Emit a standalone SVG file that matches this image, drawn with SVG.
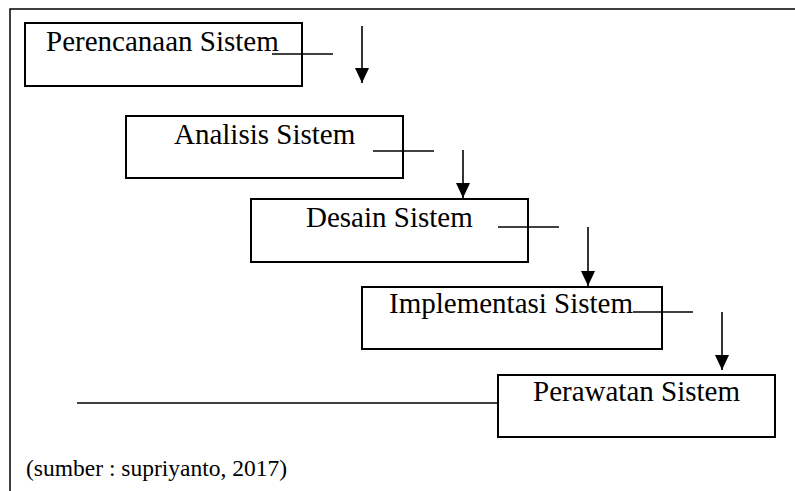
<svg xmlns="http://www.w3.org/2000/svg" width="795" height="491" viewBox="0 0 795 491">
  <style>
    .box { fill: #ffffff; stroke: #000000; stroke-width: 2; }
    .lbl { font-family: "Liberation Serif", "Times New Roman", serif; font-size: 29px; fill: #000000; }
    .src { font-family: "Liberation Serif", "Times New Roman", serif; font-size: 23.5px; fill: #000000; }
    .ln { fill: none; stroke: #000000; stroke-width: 1.6; }
    .frame { fill: none; stroke: #000000; stroke-width: 1.5; }
  </style>
  <defs>
    <marker id="arr" viewBox="0 0 15 14" refX="15" refY="7" markerWidth="15" markerHeight="14" markerUnits="userSpaceOnUse" orient="auto">
      <path d="M0,0 L15,7 L0,14 z" fill="#000000"/>
    </marker>
  </defs>
  <rect width="795" height="491" fill="#ffffff"/>
  <g id="frame">
    <path class="frame" d="M10,491 L10,9 L795,9"/>
  </g>
  <g id="node-perencanaan">
    <rect class="box" x="25" y="23" width="277" height="63"/>
    <text class="lbl" x="46" y="51">Perencanaan Sistem</text>
  </g>
  <g id="node-analisis">
    <rect class="box" x="126" y="116" width="277" height="62"/>
    <text class="lbl" x="174" y="144">Analisis Sistem</text>
  </g>
  <g id="node-desain">
    <rect class="box" x="251" y="199" width="277" height="63"/>
    <text class="lbl" x="306" y="227">Desain Sistem</text>
  </g>
  <g id="node-implementasi">
    <rect class="box" x="362" y="287" width="300" height="62"/>
    <text class="lbl" x="389" y="313">Implementasi Sistem</text>
  </g>
  <g id="node-perawatan">
    <rect class="box" x="498" y="375" width="277" height="62"/>
    <text class="lbl" x="533" y="401">Perawatan Sistem</text>
  </g>
  <g id="connectors">
    <line class="ln" x1="272" y1="54" x2="333" y2="54"/>
    <line class="ln" x1="362" y1="26" x2="362" y2="83" marker-end="url(#arr)"/>
    <line class="ln" x1="373" y1="151" x2="434" y2="151"/>
    <line class="ln" x1="463" y1="150" x2="463" y2="198" marker-end="url(#arr)"/>
    <line class="ln" x1="498" y1="227" x2="559" y2="227"/>
    <line class="ln" x1="588" y1="227" x2="588" y2="286" marker-end="url(#arr)"/>
    <line class="ln" x1="633" y1="312" x2="693" y2="312"/>
    <line class="ln" x1="722" y1="312" x2="722" y2="370" marker-end="url(#arr)"/>
    <line class="ln" x1="77" y1="403" x2="498" y2="403"/>
  </g>
  <text class="src" x="26" y="476">(sumber : supriyanto, 2017)</text>
</svg>
